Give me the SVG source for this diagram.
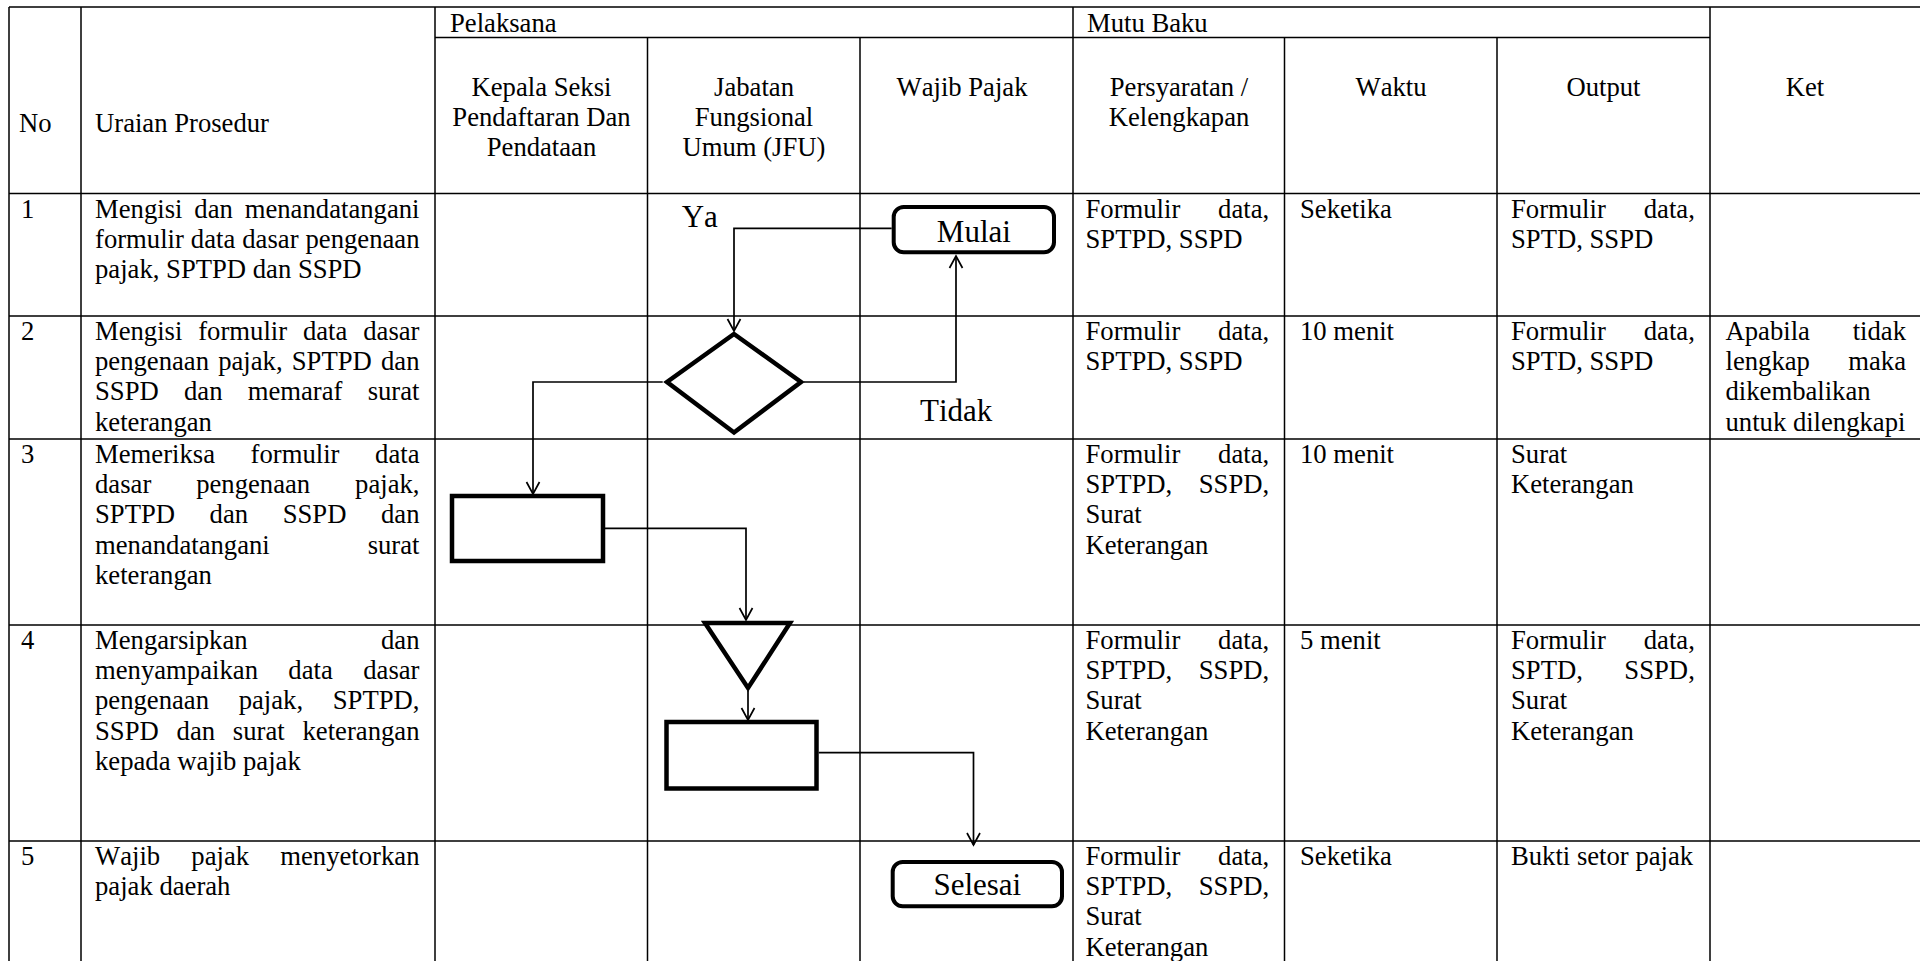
<svg xmlns="http://www.w3.org/2000/svg" width="1920" height="961" viewBox="0 0 1920 961">
<defs>
<style>
.grid{stroke:#000;stroke-width:1.5;fill:none}
text{font-family:"Liberation Serif","Times New Roman",serif;font-size:26.67px;fill:#000;font-kerning:none}
.big{font-size:31px}
.mid{text-anchor:middle}
.shape{fill:#fff;stroke:#000;stroke-width:4.5;stroke-linejoin:miter}
.term{fill:#fff;stroke:#000;stroke-width:4}
.conn{fill:none;stroke:#000;stroke-width:1.7}
</style>
<marker id="arr" viewBox="-14 -8 16 16" refX="0" refY="0" markerWidth="16" markerHeight="16" markerUnits="userSpaceOnUse" orient="auto">
<path d="M-12,-6.5 L0,0 L-12,6.5" fill="none" stroke="#000" stroke-width="1.7"/>
</marker>
</defs>
<rect width="1920" height="961" fill="#fff"/>

<g id="table-grid" class="grid">
<path d="M9,7 H1921 M435,37.5 H1710 M9,193.5 H1921 M9,316 H1921 M9,439 H1921 M9,625 H1921 M9,841 H1921"/>
<path d="M9,7 V961 M81,7 V961 M435,7 V961 M647.5,37.5 V961 M860,37.5 V961 M1073,7 V961 M1284.5,37.5 V961 M1497,37.5 V961 M1710,7 V961 M1921,7 V961"/>
</g>

<g id="header">
<text x="19" y="132">No</text>
<text x="95" y="132">Uraian Prosedur</text>
<text x="450" y="32">Pelaksana</text>
<text x="1087" y="32">Mutu Baku</text>
<text class="mid" x="541.5" y="96">Kepala Seksi</text>
<text class="mid" x="541.5" y="126.2">Pendaftaran Dan</text>
<text class="mid" x="541.5" y="156.4">Pendataan</text>
<text class="mid" x="754" y="96">Jabatan</text>
<text class="mid" x="754" y="126.2">Fungsional</text>
<text class="mid" x="754" y="156.4">Umum (JFU)</text>
<text class="mid" x="962" y="96">Wajib Pajak</text>
<text class="mid" x="1179" y="96">Persyaratan /</text>
<text class="mid" x="1179" y="126.2">Kelengkapan</text>
<text class="mid" x="1391" y="96">Waktu</text>
<text class="mid" x="1603.5" y="96">Output</text>
<text class="mid" x="1805" y="96">Ket</text>
</g>

<g id="row-1">
<text x="21" y="217.5">1</text>
<text x="95" y="217.5" textLength="324.5" lengthAdjust="spacing" style="word-spacing:5.2px">Mengisi dan menandatangani</text>
<text x="95" y="247.7" textLength="324.5" lengthAdjust="spacing" style="word-spacing:0.3px">formulir data dasar pengenaan</text>
<text x="95" y="277.9">pajak, SPTPD dan SSPD</text>
<text x="1085.5" y="217.5" textLength="183.7" lengthAdjust="spacing" style="word-spacing:31.1px">Formulir data,</text>
<text x="1085.5" y="247.7">SPTPD, SSPD</text>
<text x="1300" y="217.5">Seketika</text>
<text x="1511" y="217.5" textLength="183.8" lengthAdjust="spacing" style="word-spacing:31.2px">Formulir data,</text>
<text x="1511" y="247.7">SPTD, SSPD</text>
</g>

<g id="row-2">
<text x="21" y="340">2</text>
<text x="95" y="340" textLength="324.5" lengthAdjust="spacing" style="word-spacing:9.2px">Mengisi formulir data dasar</text>
<text x="95" y="370.2" textLength="324.5" lengthAdjust="spacing" style="word-spacing:2.5px">pengenaan pajak, SPTPD dan</text>
<text x="95" y="400.4" textLength="324.5" lengthAdjust="spacing" style="word-spacing:18.5px">SSPD dan memaraf surat</text>
<text x="95" y="430.6">keterangan</text>
<text x="1085.5" y="340" textLength="183.7" lengthAdjust="spacing" style="word-spacing:31.1px">Formulir data,</text>
<text x="1085.5" y="370.2">SPTPD, SSPD</text>
<text x="1300" y="340">10 menit</text>
<text x="1511" y="340" textLength="183.8" lengthAdjust="spacing" style="word-spacing:31.2px">Formulir data,</text>
<text x="1511" y="370.2">SPTD, SSPD</text>
<text x="1725.5" y="340" textLength="180.5" lengthAdjust="spacing" style="word-spacing:36.1px">Apabila tidak</text>
<text x="1725.5" y="370.2" textLength="180.5" lengthAdjust="spacing" style="word-spacing:31.6px">lengkap maka</text>
<text x="1725.5" y="400.4">dikembalikan</text>
<text x="1725.5" y="430.6">untuk dilengkapi</text>
</g>

<g id="row-3">
<text x="21" y="463">3</text>
<text x="95" y="463" textLength="324.5" lengthAdjust="spacing" style="word-spacing:28.9px">Memeriksa formulir data</text>
<text x="95" y="493.2" textLength="324.5" lengthAdjust="spacing" style="word-spacing:38.2px">dasar pengenaan pajak,</text>
<text x="95" y="523.4" textLength="324.5" lengthAdjust="spacing" style="word-spacing:27.9px">SPTPD dan SSPD dan</text>
<text x="95" y="553.6" textLength="324.5" lengthAdjust="spacing" style="word-spacing:91.2px">menandatangani surat</text>
<text x="95" y="583.8">keterangan</text>
<text x="1085.5" y="463" textLength="183.7" lengthAdjust="spacing" style="word-spacing:31.1px">Formulir data,</text>
<text x="1085.5" y="493.2" textLength="183.7" lengthAdjust="spacing" style="word-spacing:19.9px">SPTPD, SSPD,</text>
<text x="1085.5" y="523.4">Surat</text>
<text x="1085.5" y="553.6">Keterangan</text>
<text x="1300" y="463">10 menit</text>
<text x="1511" y="463">Surat</text>
<text x="1511" y="493.2">Keterangan</text>
</g>

<g id="row-4">
<text x="21" y="649">4</text>
<text x="95" y="649" textLength="324.5" lengthAdjust="spacing" style="word-spacing:126.7px">Mengarsipkan dan</text>
<text x="95" y="679.2" textLength="324.5" lengthAdjust="spacing" style="word-spacing:23.7px">menyampaikan data dasar</text>
<text x="95" y="709.4" textLength="324.5" lengthAdjust="spacing" style="word-spacing:23px">pengenaan pajak, SPTPD,</text>
<text x="95" y="739.6" textLength="324.5" lengthAdjust="spacing" style="word-spacing:11.1px">SSPD dan surat keterangan</text>
<text x="95" y="769.8">kepada wajib pajak</text>
<text x="1085.5" y="649" textLength="183.7" lengthAdjust="spacing" style="word-spacing:31.1px">Formulir data,</text>
<text x="1085.5" y="679.2" textLength="183.7" lengthAdjust="spacing" style="word-spacing:19.9px">SPTPD, SSPD,</text>
<text x="1085.5" y="709.4">Surat</text>
<text x="1085.5" y="739.6">Keterangan</text>
<text x="1300" y="649">5 menit</text>
<text x="1511" y="649" textLength="183.8" lengthAdjust="spacing" style="word-spacing:31.2px">Formulir data,</text>
<text x="1511" y="679.2" textLength="183.8" lengthAdjust="spacing" style="word-spacing:34.8px">SPTD, SSPD,</text>
<text x="1511" y="709.4">Surat</text>
<text x="1511" y="739.6">Keterangan</text>
</g>

<g id="row-5">
<text x="21" y="865">5</text>
<text x="95" y="865" textLength="324.5" lengthAdjust="spacing" style="word-spacing:24.5px">Wajib pajak menyetorkan</text>
<text x="95" y="895.2">pajak daerah</text>
<text x="1085.5" y="865" textLength="183.7" lengthAdjust="spacing" style="word-spacing:31.1px">Formulir data,</text>
<text x="1085.5" y="895.2" textLength="183.7" lengthAdjust="spacing" style="word-spacing:19.9px">SPTPD, SSPD,</text>
<text x="1085.5" y="925.4">Surat</text>
<text x="1085.5" y="955.6">Keterangan</text>
<text x="1300" y="865">Seketika</text>
<text x="1511" y="865">Bukti setor pajak</text>
</g>

<g id="connectors" class="conn">
<path d="M891.7,228.3 H734 V331" marker-end="url(#arr)"/>
<path d="M804,382 H956 V256" marker-end="url(#arr)"/>
<path d="M662.7,382 H533 V494" marker-end="url(#arr)"/>
<path d="M605,528.3 H746 V620" marker-end="url(#arr)"/>
<path d="M748,690.5 V720" marker-end="url(#arr)"/>
<path d="M818.7,752.7 H973.5 V845" marker-end="url(#arr)"/>
</g>

<g id="label-ya"><text class="big" x="681.7" y="226.7">Ya</text></g>
<g id="label-tidak"><text class="big" x="920" y="421">Tidak</text></g>

<g id="node-mulai">
<rect class="term" x="893.7" y="207" width="160.3" height="45.3" rx="10"/>
<text class="big mid" x="973.9" y="241.7">Mulai</text>
</g>
<g id="node-decision">
<polygon class="shape" points="734,334 801,382 734,432.5 667,382"/>
</g>
<g id="node-proses-kasi">
<rect class="shape" x="452" y="496" width="151" height="65"/>
</g>
<g id="node-arsip">
<polygon class="shape" points="705,623 790,623 748,688"/>
</g>
<g id="node-proses-jfu">
<rect class="shape" x="666.5" y="722" width="150" height="66.5"/>
</g>
<g id="node-selesai">
<rect class="term" x="892.7" y="862" width="169.3" height="44.3" rx="10"/>
<text class="big mid" x="977.3" y="895">Selesai</text>
</g>
</svg>
